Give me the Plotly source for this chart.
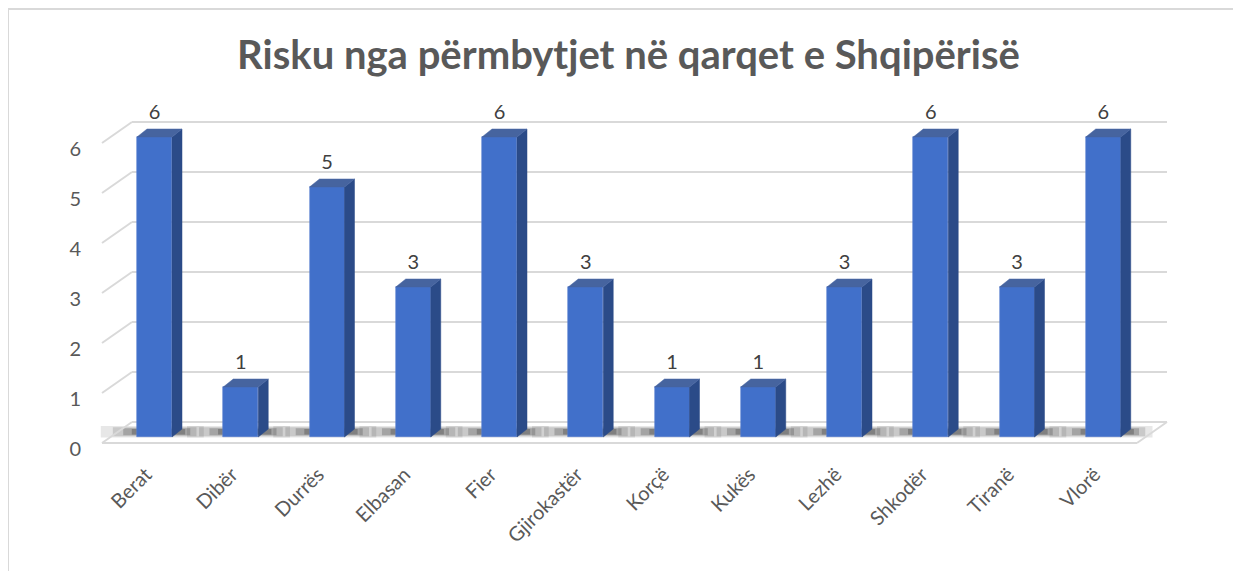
import plotly.graph_objects as go

# ---------------- data ----------------
categories = ["Berat", "Dibër", "Durrës", "Elbasan", "Fier", "Gjirokastër",
              "Korçë", "Kukës", "Lezhë", "Shkodër", "Tiranë", "Vlorë"]
values = [6, 1, 5, 3, 6, 3, 1, 1, 3, 6, 3, 6]
y_ticks = [0, 1, 2, 3, 4, 5, 6]
title_text = "Risku nga përmbytjet në qarqet e Shqipërisë"

# ---------------- geometry (pixel layout) ----------------
OFF = 8                          # page body margin offset
W, H = 1241, 571
ML, MR, MT, MB = 90 - OFF, 41 + OFF, 100 - OFF, 121 + OFF
X0, SX = 154.5 - OFF, 86.25      # pixel of first bar centre, px per category
Y0, SY = 437.0 - OFF, 50.0       # pixel of value 0 on bar-front plane, px per unit
plot_w, plot_h = W - ML - MR, H - MT - MB

xr = [(ML - X0) / SX, (W - MR - X0) / SX]
yr = [(Y0 - (H - MB)) / SY, (Y0 - MT) / SY]

bar_w = 35 / SX
dx, dy = 10 / SX, 8 / SY                  # bar depth offset
back_dx, back_dy = 21.4 / SX, 15 / SY     # bar-front plane -> back wall
front_dx, front_dy = -8.6 / SX, -6 / SY   # bar-front plane -> floor front edge
wall_l, wall_r = -0.261, len(categories) - 1 + 0.739

grid_col = "#d9d9d9"
text_col = "#595959"
FONT = "Lato"

fig = go.Figure()

shapes = []
# soft shadows on the floor (layered rectangles, below the bars)
for hs, vs, op in [(0.42, 0.02, 0.10), (0.28, 0.045, 0.14), (0.16, 0.065, 0.2),
                   (0.06, 0.08, 0.25)]:
    for i, v in enumerate(values):
        shapes.append(dict(type="rect", xref="x", yref="y",
                           x0=i - bar_w / 2 - hs, x1=i + bar_w / 2 + dx + hs * 0.6,
                           y0=-0.03 + vs, y1=0.24 - vs,
                           fillcolor=f"rgba(20,20,20,{op})", line=dict(width=0),
                           layer="below"))

# floor + wall gridlines
for k in y_ticks:
    yb = k + back_dy
    shapes.append(dict(type="line", xref="x", yref="y", x0=wall_l, x1=wall_r, y0=yb, y1=yb,
                       line=dict(color=grid_col, width=2), layer="below"))
    shapes.append(dict(type="line", xref="x", yref="y",
                       x0=wall_l - (back_dx - front_dx), y0=k + front_dy,
                       x1=wall_l, y1=yb, line=dict(color=grid_col, width=2), layer="below"))
fl = wall_l - (back_dx - front_dx)
fr = wall_r - (back_dx - front_dx)
shapes.append(dict(type="line", xref="x", yref="y", x0=fl, x1=fr, y0=front_dy, y1=front_dy,
                   line=dict(color=grid_col, width=2), layer="below"))
shapes.append(dict(type="line", xref="x", yref="y", x0=fr, y0=front_dy, x1=wall_r, y1=back_dy,
                   line=dict(color=grid_col, width=2), layer="below"))


# chart border (top and left only)
def px_to_paper_x(p):
    return (p - ML) / plot_w


def px_to_paper_y(p):
    return 1 - (p - MT) / plot_h


shapes.append(dict(type="line", xref="paper", yref="paper",
                   x0=px_to_paper_x(0), x1=px_to_paper_x(W + 5),
                   y0=px_to_paper_y(1), y1=px_to_paper_y(1),
                   line=dict(color="#d9d9d9", width=2)))
shapes.append(dict(type="line", xref="paper", yref="paper",
                   x0=px_to_paper_x(0), x1=px_to_paper_x(0),
                   y0=px_to_paper_y(1), y1=px_to_paper_y(H + 5),
                   line=dict(color="#d9d9d9", width=2)))

# side and top faces
side_x, side_y, top_x, top_y = [], [], [], []
for i, v in enumerate(values):
    xr_ = i + bar_w / 2
    side_x += [xr_, xr_ + dx, xr_ + dx, xr_, xr_, None]
    side_y += [0, dy, v + dy, v, 0, None]
    xl_ = i - bar_w / 2
    top_x += [xl_, xr_, xr_ + dx, xl_ + dx, xl_, None]
    top_y += [v, v, v + dy, v + dy, v, None]

# front faces
fig.add_trace(go.Bar(x=list(range(len(categories))), y=values, width=bar_w,
                     marker=dict(color="#4170ca", line=dict(width=0.6, color="#5a80d0")),
                     showlegend=False, hovertext=categories))

fig.add_trace(go.Scatter(x=side_x, y=side_y, fill="toself", mode="lines",
                         line=dict(width=0.5, color="#2a4a86"), fillcolor="#2b4b88",
                         hoverinfo="skip", showlegend=False))

fig.add_trace(go.Scatter(x=top_x, y=top_y, fill="toself", mode="lines",
                         line=dict(width=0.5, color="#4563a3"), fillcolor="#46649f",
                         hoverinfo="skip", showlegend=False))

# data labels
fig.add_trace(go.Scatter(x=list(range(len(categories))), y=[v + 0.47 for v in values],
                         mode="text", text=[str(v) for v in values],
                         textposition="middle center",
                         textfont=dict(family=FONT, size=20, color="#404040"),
                         hoverinfo="skip", showlegend=False))

fig.update_layout(
    width=W, height=H,
    margin=dict(l=ML, r=MR, t=MT, b=MB, autoexpand=False),
    paper_bgcolor="white", plot_bgcolor="white",
    shapes=shapes,
    bargap=0,
    title=dict(text=f"<b>{title_text}</b>", x=0.5, xanchor="center",
               yref="container", y=1 - (55 - OFF) / H, yanchor="middle",
               font=dict(family=FONT, size=40, color=text_col)),
    xaxis=dict(range=xr, showgrid=False, zeroline=False, showline=False, automargin=False,
               tickmode="array", tickvals=[i + front_dx for i in range(len(categories))],
               ticktext=categories, tickangle=-45, ticklabelstandoff=8,
               tickfont=dict(family=FONT, size=20, color=text_col), ticks=""),
    yaxis=dict(range=yr, showgrid=False, zeroline=False, showline=False, automargin=False,
               tickmode="array", tickvals=[k - 0.24 for k in y_ticks],
               ticktext=[str(k) for k in y_ticks], ticks="",
               ticklabelstandoff=8,
               tickfont=dict(family=FONT, size=20, color=text_col)),
)

fig.write_html("out.html")
